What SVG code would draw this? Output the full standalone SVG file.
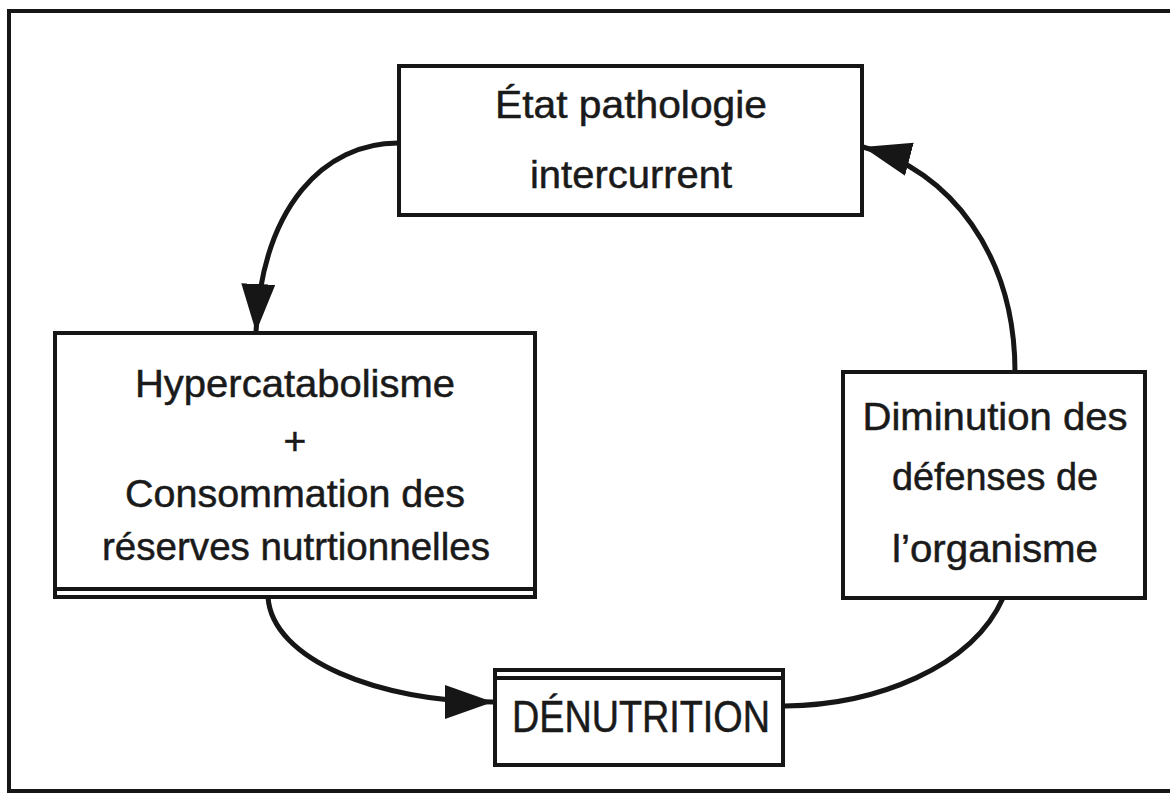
<svg xmlns="http://www.w3.org/2000/svg" width="1170" height="794" viewBox="0 0 1170 794">
<defs>
<style>
.box{fill:#fff;stroke:#161616;stroke-width:4}
.ln{fill:none;stroke:#161616;stroke-width:4}
.t{font-family:"Liberation Sans",Arial,sans-serif;fill:#1a1a1a;stroke:#1a1a1a;stroke-width:0.5;text-anchor:middle;font-size:39px}
.big{font-size:44px}
.con{fill:none;stroke:#161616;stroke-width:5}
</style>
<marker id="ah" markerUnits="userSpaceOnUse" markerWidth="52" markerHeight="36" refX="48" refY="17" orient="auto">
<path d="M0,0 L48,17 L0,34 Z" fill="#161616"/>
</marker>
</defs>
<rect width="1170" height="794" fill="#fff"/>
<path class="ln" d="M1175,11 H9 V791 H1175"/>
<g id="node-etat">
<rect class="box" x="399" y="66" width="463" height="149"/>
<text class="t" x="631" y="118" textLength="272" lengthAdjust="spacingAndGlyphs">État pathologie</text>
<text class="t" x="631" y="188" textLength="202" lengthAdjust="spacingAndGlyphs">intercurrent</text>
</g>
<g id="node-hyper">
<rect class="box" x="55" y="333" width="480" height="264"/>
<line class="ln" x1="55" y1="589" x2="535" y2="589" stroke-width="3"/>
<text class="t" x="295" y="397" textLength="320" lengthAdjust="spacingAndGlyphs">Hypercatabolisme</text>
<text class="t" x="295" y="454">+</text>
<text class="t" x="295" y="507" textLength="340" lengthAdjust="spacingAndGlyphs">Consommation des</text>
<text class="t" x="296" y="560" textLength="388" lengthAdjust="spacingAndGlyphs">réserves nutrtionnelles</text>
</g>
<g id="node-diminution">
<rect class="box" x="843" y="372" width="302" height="226"/>
<text class="t" x="995" y="430" textLength="265" lengthAdjust="spacingAndGlyphs">Diminution des</text>
<text class="t" x="995" y="490" textLength="206" lengthAdjust="spacingAndGlyphs">défenses de</text>
<text class="t" x="995" y="562" textLength="206" lengthAdjust="spacingAndGlyphs">l’organisme</text>
</g>
<g id="node-denutrition">
<rect class="box" x="495" y="670" width="288" height="95"/>
<line class="ln" x1="495" y1="678" x2="783" y2="678" stroke-width="2"/>
<text class="t big" x="641" y="732" textLength="258" lengthAdjust="spacingAndGlyphs">DÉNUTRITION</text>
</g>
<g id="connectors">
<path class="con" d="M398,143 C325,143 262,205 256,332" marker-end="url(#ah)"/>
<path class="con" d="M268,597 C272,660 380,702 493,702" marker-end="url(#ah)"/>
<path class="con" d="M785,706 C875,705 972,668 1003,598"/>
<path class="con" d="M1015,372 C1015,255 950,170 863,147" marker-end="url(#ah)"/>
</g>
</svg>
